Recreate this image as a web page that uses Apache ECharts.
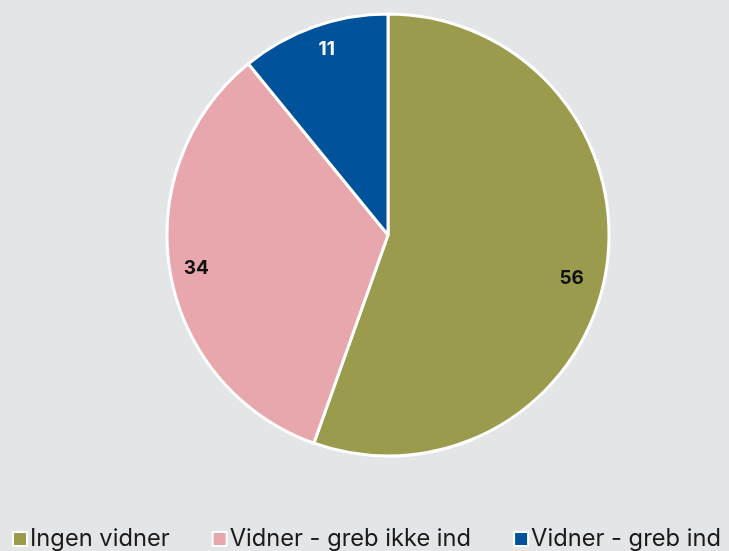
<!DOCTYPE html>
<html><head><meta charset="utf-8">
<script src="https://cdn.jsdelivr.net/npm/echarts@6/dist/echarts.min.js"></script>
<style>html,body{margin:0;padding:0;background:#e4e5e7}#c{width:729px;height:551px}</style>
</head><body><div id="c"></div>
<script>
const categories = ["Ingen vidner", "Vidner - greb ikke ind", "Vidner - greb ind"];
const values = [56, 34, 11];
const colors = ["#9b9b4d", "#e8a6ad", "#00529b"];
const labelColors = ["#111111", "#111111", "#ffffff"];

const chart = echarts.init(document.getElementById('c'));
const mainData = categories.map((n, i) => ({ name: n, value: values[i], itemStyle: { color: colors[i] } }));
const labelData = categories.map((n, i) => ({ name: n, value: values[i], label: { color: labelColors[i] } }));
chart.setOption({
  backgroundColor: '#e4e5e7',
  animation: false,
  legend: {
    top: 527, left: 12, width: 725, padding: 0,
    itemWidth: 14, itemHeight: 14, itemGap: 42,
    icon: 'rect',
    itemStyle: { borderColor: '#ffffff', borderWidth: 2 },
    textStyle: { fontFamily: 'Inter', fontSize: 23.7, color: '#1a1a1a', padding: [0, 0, 0, -2] },
    data: categories
  },
  series: [
    {
      type: 'pie', center: [388, 235], radius: 221,
      startAngle: 90, clockwise: true,
      itemStyle: { borderColor: '#ffffff', borderWidth: 3 },
      label: { show: false }, labelLine: { show: false },
      emphasis: { disabled: true },
      data: mainData
    },
    {
      type: 'pie', center: [388, 235], radius: [162, 221],
      startAngle: 90, clockwise: true, silent: true,
      itemStyle: { color: 'transparent', borderWidth: 0 },
      label: { show: true, position: 'inside', fontFamily: 'Inter', fontWeight: 'bold', fontSize: 19, formatter: '{c}' },
      labelLine: { show: false },
      labelLayout: function (p) { return p.dataIndex === 0 ? { dx: -8, dy: 10 } : (p.dataIndex === 2 ? { dx: 4, dy: -2 } : {}); },
      emphasis: { disabled: true },
      data: labelData
    }
  ]
});
</script></body></html>
